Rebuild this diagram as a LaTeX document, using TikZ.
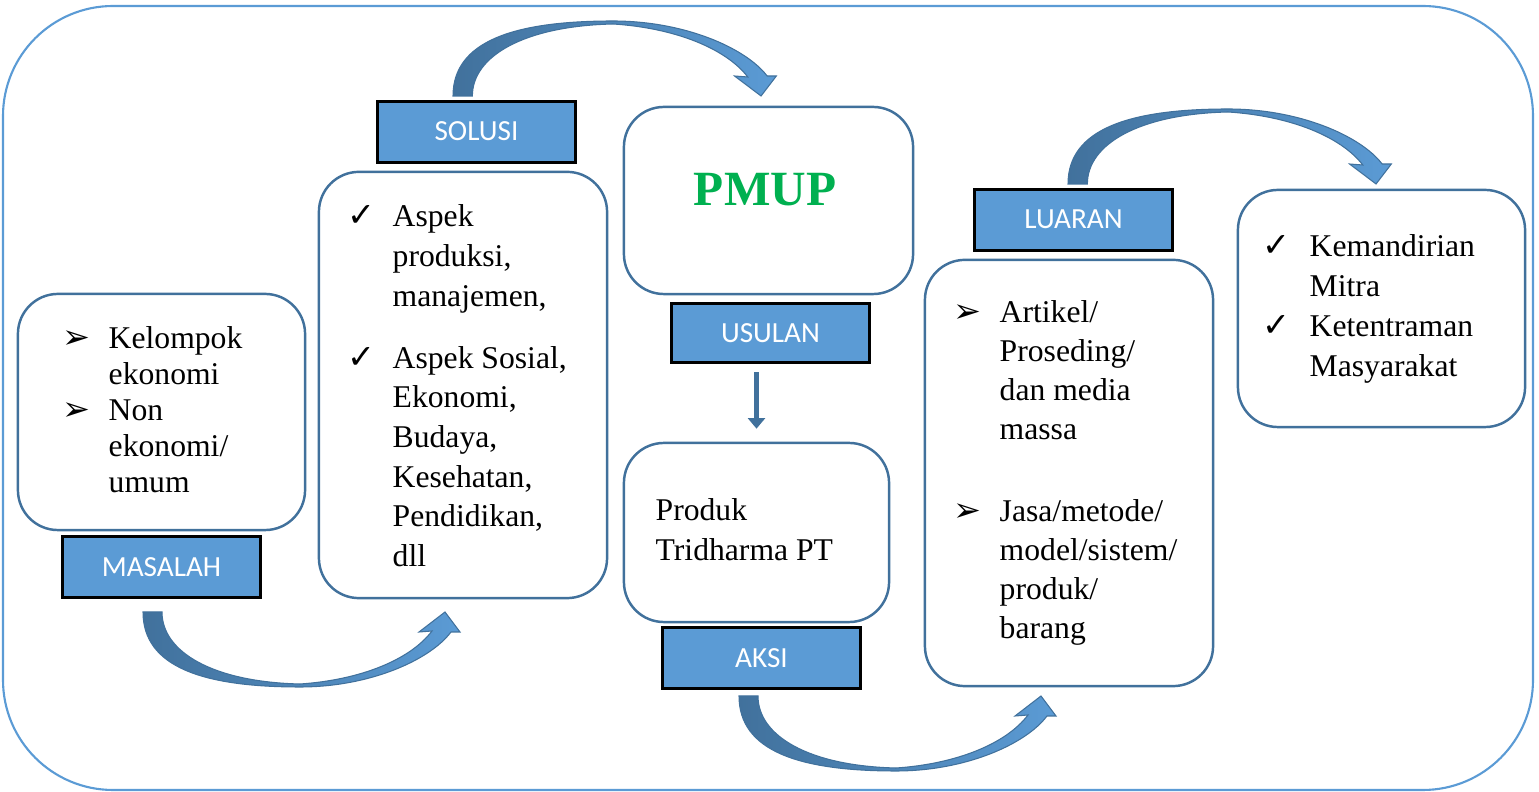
\documentclass[tikz,border=0pt]{standalone}
\usepackage{fontspec}
\setmainfont{Liberation Serif}
\newfontfamily\lblfont{Carlito}
\newfontfamily\symfont{DejaVu Sans}
\usetikzlibrary{positioning,arrows.meta}
\definecolor{framecol}{HTML}{5B9BD5}
\definecolor{boxcol}{HTML}{41719C}
\definecolor{lblfill}{HTML}{5B9BD5}
\definecolor{arrowdark}{HTML}{41719C}
\definecolor{arrowlight}{HTML}{5B9BD5}
\definecolor{pmupgreen}{HTML}{00B050}
\newcommand{\arrowbul}{{\symfont\fontsize{9.5}{10}\selectfont ➢}}
\newcommand{\checkbul}{{\symfont\fontsize{9.5}{10}\selectfont ✓}}
\tikzset{
        % Rounded content boxes
        contentbox/.style={rectangle, draw=boxcol, line width=0.7pt, rounded corners=0.4cm, fill=white},
        % Blue title bars
        titlebar/.style={rectangle, draw=black, line width=0.85pt, fill=lblfill, text=white,
                font=\lblfont\fontsize{8.3}{9}\selectfont, minimum width=1.97cm, minimum height=0.61cm, inner sep=0pt},
        % Text inside the boxes
        boxtext/.style={anchor=base west, inner sep=0pt},
        % Bent block arrow between the stages
        bendarrow/.pic={
            \path[draw=arrowdark, line width=0.3pt, left color=arrowdark, right color=arrowlight]
                (0,0) .. controls (0,55) and (60,75) .. (157,75)
                .. controls (227,75) and (287,48) .. (308,20) -- (317,20) -- (302,0) -- (276,20) -- (289,19)
                .. controls (267,48) and (217,68) .. (157,72)
                .. controls (70,70) and (19,40) .. (19,0) -- cycle;
        }
}
\begin{document}
\begin{tikzpicture}[x=0.01cm, y=-0.01cm]
    \useasboundingbox (0,0) rectangle (1539,792);
    \draw[framecol, line width=0.6pt, rounded corners=1.1cm] (3,6) rectangle (1533,790);

    % boxes
    \node[contentbox, minimum width=2.87cm, minimum height=2.36cm] (masalah) at (161.5,412) {};
    \node[contentbox, minimum width=2.88cm, minimum height=4.26cm] (solusi) at (463,385) {};
    \node[contentbox, minimum width=2.89cm, minimum height=1.87cm] (pmup) at (768.5,200.5) {};
    \node[contentbox, minimum width=2.65cm, minimum height=1.79cm] (produk) at (756.5,532.5) {};
    \node[contentbox, minimum width=2.88cm, minimum height=4.26cm] (luaran) at (1069,473) {};
    \node[contentbox, minimum width=2.87cm, minimum height=2.37cm] (hasil) at (1381.5,308.5) {};

    % title bars
    \node[titlebar, below=0.04cm of masalah] (masalahbar) {MASALAH};
    \node[titlebar, above=0.07cm of solusi, xshift=0.135cm] (solusibar) {SOLUSI};
    \node[titlebar, below=0.07cm of pmup, xshift=0.02cm, minimum height=0.59cm] (usulanbar) {USULAN};
    \node[titlebar, below=0.03cm of produk, xshift=0.05cm] (aksibar) {AKSI};
    \node[titlebar, above=0.07cm of luaran, xshift=0.045cm] (luaranbar) {LUARAN};

    % texts
    \node[boxtext, font=\fontsize{9}{10.2}\selectfont] (masalahtxt) at (62,349) {%
        \begin{tabular}[t]{@{}p{0.46cm}@{}l@{}}
            \arrowbul & Kelompok\\
                      & ekonomi\\
            \arrowbul & Non\\
                      & ekonomi/\\
                      & umum
        \end{tabular}};
    \node[boxtext, font=\fontsize{9}{11.3}\selectfont] (solusitxt) at (347,227) {%
        \begin{tabular}[t]{@{}p{0.45cm}@{}l@{}}
            \checkbul & Aspek\\
                      & produksi,\\
                      & manajemen,\\[6.2pt]
            \checkbul & Aspek Sosial,\\
                      & Ekonomi,\\
                      & Budaya,\\
                      & Kesehatan,\\
                      & Pendidikan,\\
                      & dll
        \end{tabular}};
    \node[font=\bfseries\fontsize{14}{16}\selectfont, text=pmupgreen] (pmuptxt) at (765,190) {PMUP};
    \node[boxtext, font=\fontsize{9}{11.3}\selectfont] (produktxt) at (655,521) {%
        \begin{tabular}[t]{@{}l@{}}
            Produk\\
            Tridharma PT
        \end{tabular}};
    \node[boxtext, font=\fontsize{9}{11.06}\selectfont] (luarantxt) at (953,323) {%
        \begin{tabular}[t]{@{}p{0.46cm}@{}l@{}}
            \arrowbul & Artikel/\\
                      & Proseding/\\
                      & dan media\\
                      & massa\\[12.2pt]
            \arrowbul & Jasa/metode/\\
                      & model/sistem/\\
                      & produk/\\
                      & barang
        \end{tabular}};
    \node[boxtext, font=\fontsize{9}{11.3}\selectfont] (hasiltxt) at (1262,257) {%
        \begin{tabular}[t]{@{}p{0.47cm}@{}l@{}}
            \checkbul & Kemandirian\\
                      & Mitra\\
            \checkbul & Ketentraman\\
                      & Masyarakat
        \end{tabular}};

    % arrows
    \draw[boxcol, line width=1.7pt, -{Triangle[width=4.8pt,length=3pt]}]
        ([yshift=-0.08cm]usulanbar.south -| produk.north) -- ([yshift=0.13cm]produk.north);
    \pic at (143,612) {bendarrow};
    \pic[xscale=1.02, yscale=-1] at (453,96) {bendarrow};
    \pic at (739,696) {bendarrow};
    \pic[xscale=1.02, yscale=-1] at (1068,184) {bendarrow};
\end{tikzpicture}
\end{document}
